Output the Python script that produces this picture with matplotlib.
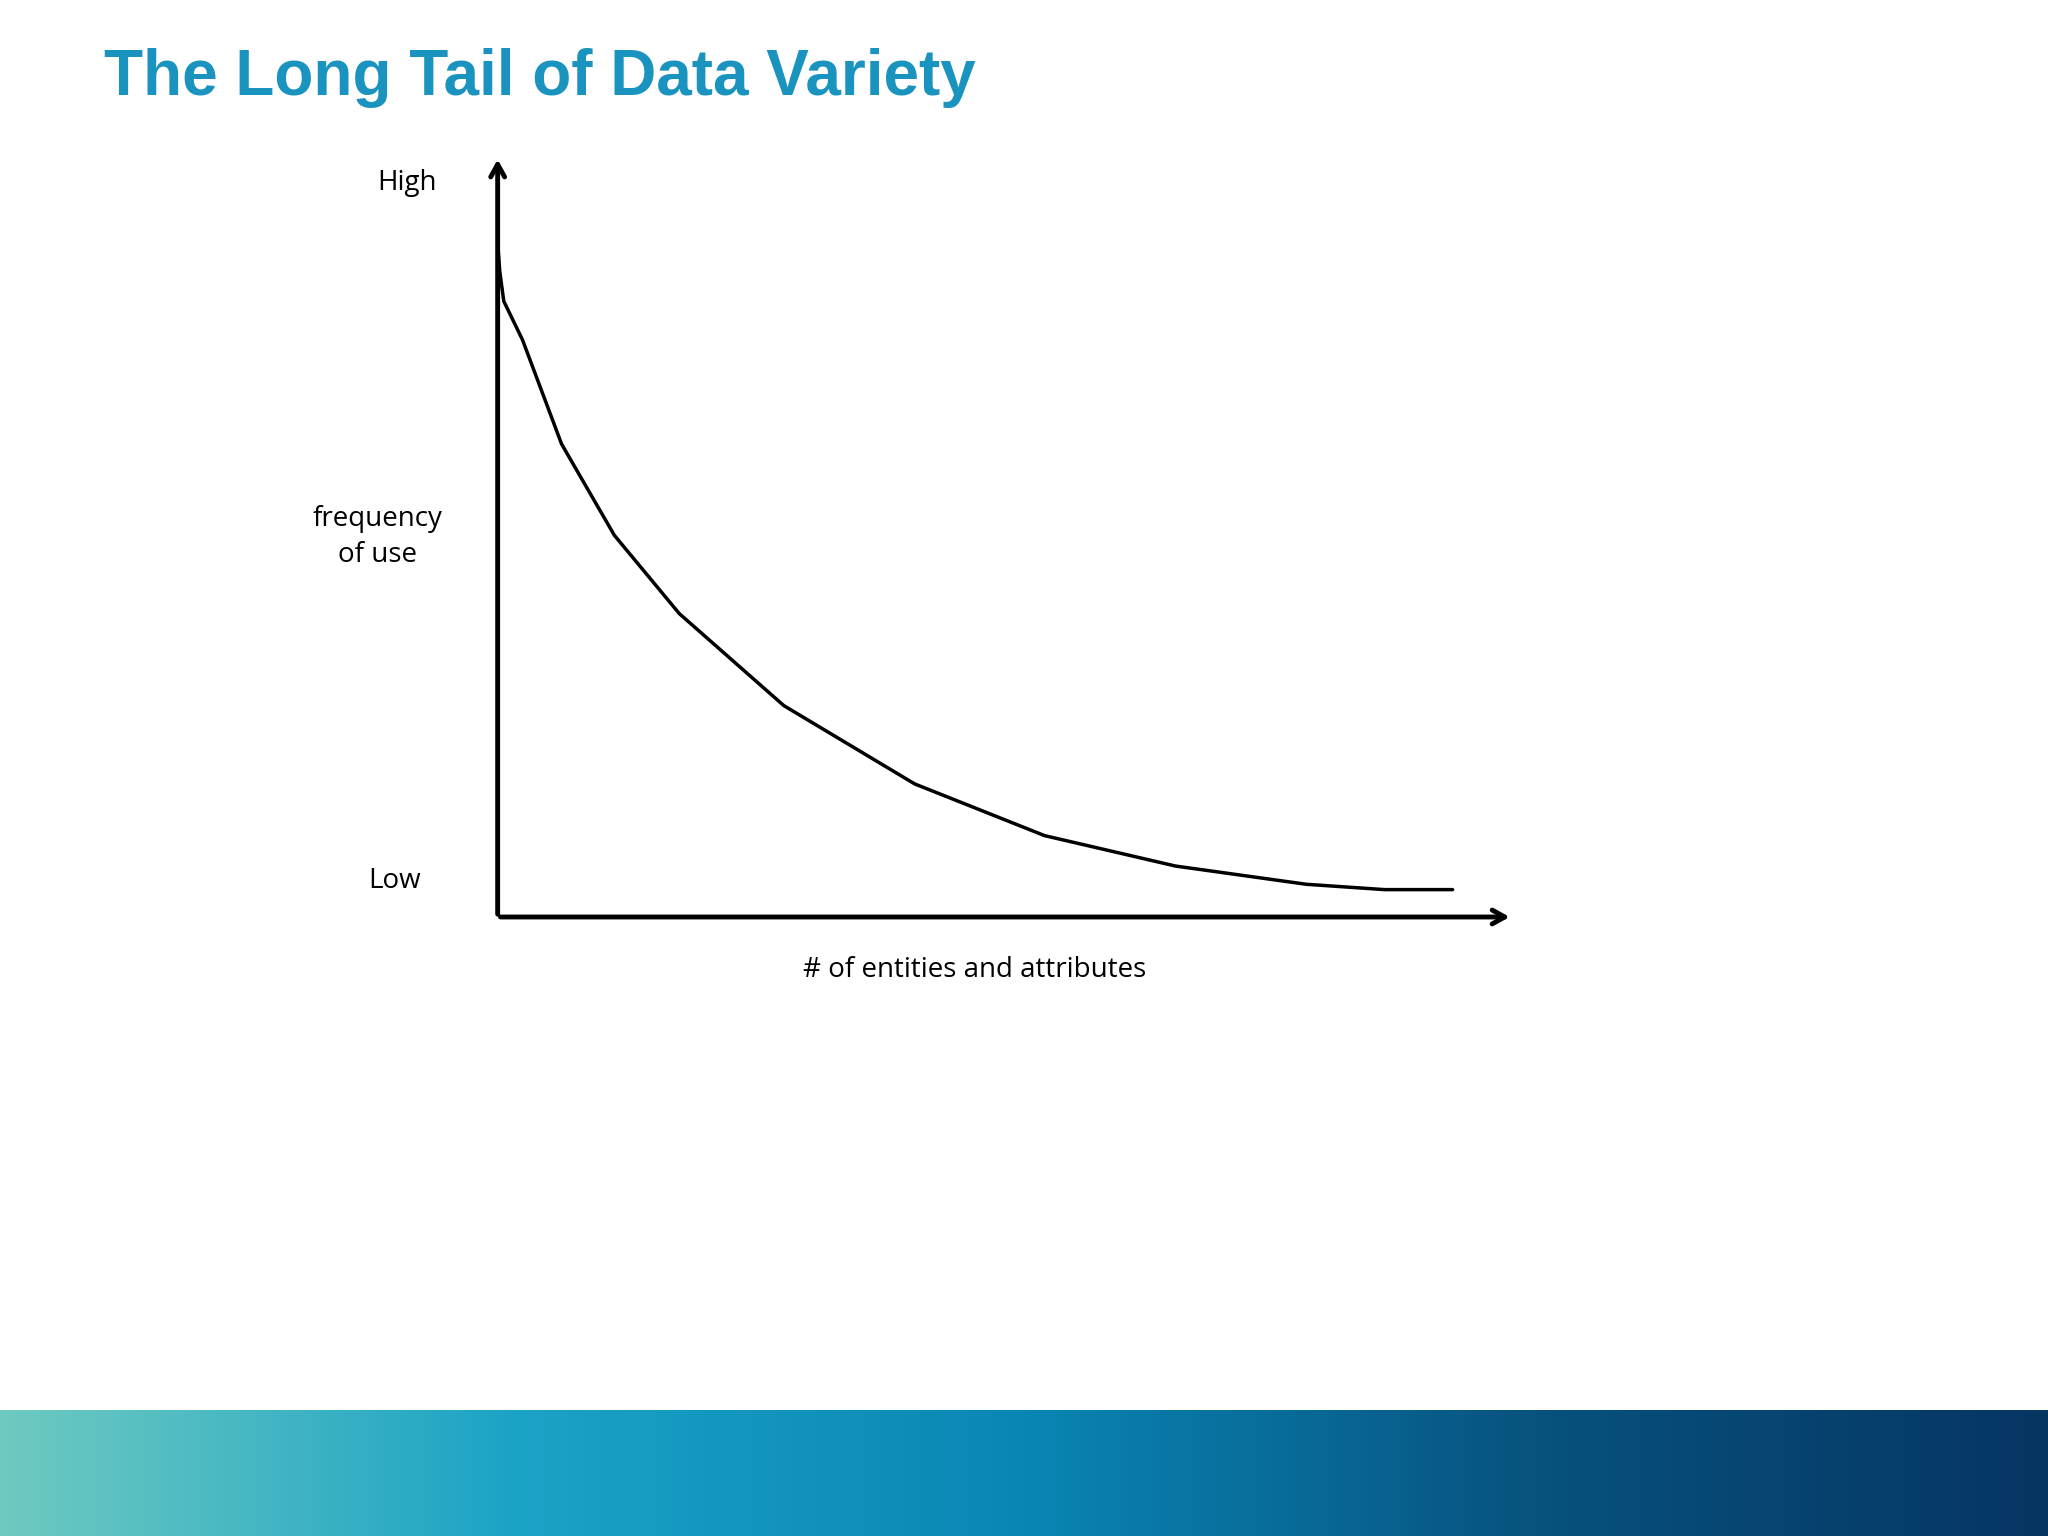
import numpy as np
import matplotlib
matplotlib.use("Agg")
import matplotlib.pyplot as plt
from matplotlib.colors import LinearSegmentedColormap

# curve data (normalized units along axes)
curve_x = [0.0, 0.002, 0.006, 0.0245, 0.063, 0.115, 0.179, 0.282, 0.411, 0.539, 0.668, 0.797, 0.874, 0.941]
curve_y = [0.888, 0.85, 0.81, 0.759, 0.622, 0.502, 0.399, 0.278, 0.175, 0.107, 0.067, 0.043, 0.036, 0.036]
title = "The Long Tail of Data Variety"
y_labels = ["High", "frequency\nof use", "Low"]
x_label = "# of entities and attributes"

fig = plt.figure(figsize=(20.48, 15.36), dpi=100)
fig.patch.set_facecolor("white")

band = fig.add_axes([0, 0, 1, 0.082])
cmap = LinearSegmentedColormap.from_list("b", ["#6ecac0", "#1ba3c6", "#0a86b4", "#07527f", "#063562"])
band.imshow(np.linspace(0, 1, 512)[None, :], aspect="auto", cmap=cmap, extent=[0, 1, 0, 1])
band.axis("off")

fig.text(0.051, 0.949, title, fontsize=46, fontweight="bold", color="#1a93bf",
         family="Liberation Sans", va="center", ha="left")

ax = fig.add_axes([0.243, 0.403, 0.4955, 0.495])
ax.set_xlim(0, 1); ax.set_ylim(0, 1)
ax.axis("off")

arrow = dict(arrowstyle="->,head_length=0.9,head_width=0.5", lw=3.5, color="black")
ax.annotate("", xy=(0, 1.0), xytext=(0, 0), arrowprops=arrow)
ax.annotate("", xy=(1.0, 0), xytext=(0, 0), arrowprops=arrow)

ax.plot(curve_x, curve_y, color="black", lw=2.5, solid_capstyle="round")

fs = 20
ax.text(-0.06, 0.965, y_labels[0], fontsize=fs, family="Open Sans", ha="right", va="center")
ax.text(-0.118, 0.50, y_labels[1], fontsize=fs, family="Open Sans", ha="center", va="center", linespacing=1.4)
ax.text(-0.076, 0.047, y_labels[2], fontsize=fs, family="Open Sans", ha="right", va="center")
ax.text(0.47, -0.07, x_label, fontsize=fs, family="Open Sans", ha="center", va="center")

fig.savefig("out.png", dpi=100)
